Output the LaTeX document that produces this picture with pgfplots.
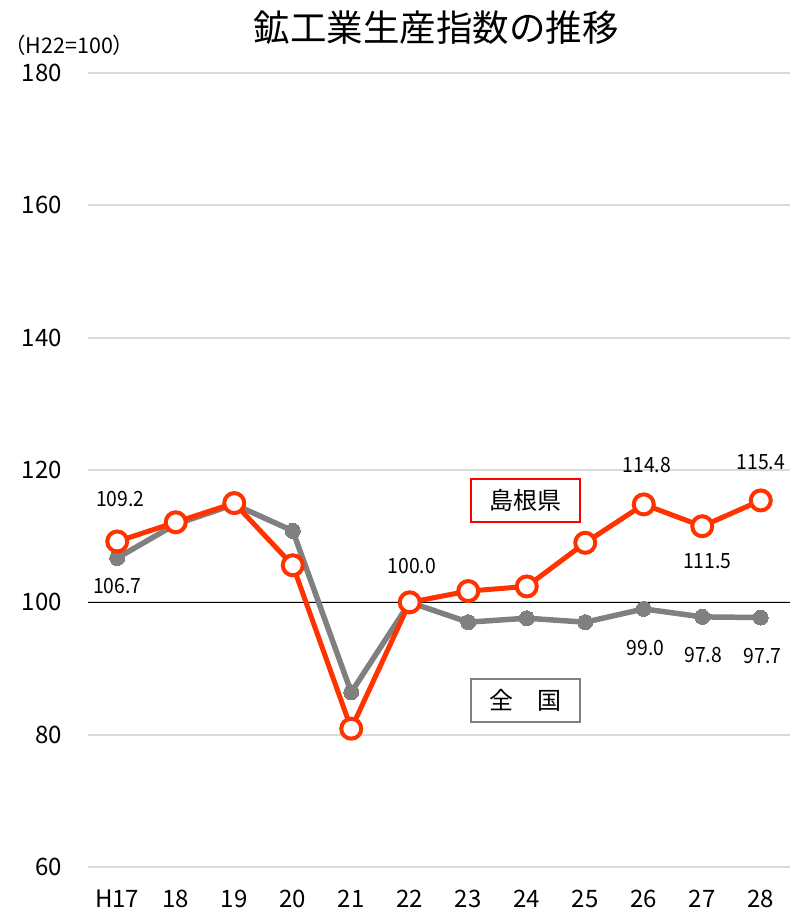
\documentclass[border=0pt]{standalone}
\usepackage{pgfplots}
\pgfplotsset{compat=1.18}
\usepackage{fontspec}
\setmainfont{Noto Sans CJK JP}
\definecolor{redline}{HTML}{FF3300}
\definecolor{grayline}{HTML}{808080}
\definecolor{gridc}{HTML}{D9D9D9}
\pgfplotstableread{
x shimane zenkoku
0 109.2 106.7
1 112.1 111.8
2 115.0 114.8
3 105.6 110.8
4 80.9 86.4
5 100.0 100.0
6 101.7 97.0
7 102.4 97.6
8 109.0 97.0
9 114.8 99.0
10 111.5 97.8
11 115.4 97.7
}\datatable
\begin{document}
\begin{tikzpicture}[x=1pt,y=1pt]
\path[use as bounding box] (0,0) rectangle (792,912);
\begin{axis}[
  at={(88pt,45pt)}, anchor=south west,
  scale only axis, width=702pt, height=794pt,
  xmin=-0.5, xmax=11.5, ymin=60, ymax=180,
  xtick={0,...,11},
  xticklabels={H17,18,19,20,21,22,23,24,25,26,27,28},
  ytick={60,80,...,180},
  axis line style={draw=none},
  major tick length=0pt,
  ymajorgrids, grid style={gridc, line width=1.8pt},
  /pgf/number format/assume math mode=true,
  yticklabel style={font=\fontsize{24}{26}\selectfont, anchor=east, inner sep=0pt, xshift=-26pt},
  xticklabel style={font=\fontsize{24}{26}\selectfont, anchor=center, inner sep=0pt, yshift=-32pt},
  clip=false,
]
\addplot[black, line width=1.3pt, forget plot] coordinates {(-0.5,100) (11.5,100)};
\addplot[grayline, line width=5.5pt, mark=*, mark size=7.5pt, mark options={fill=grayline, draw=grayline, line width=0pt}] table[x=x, y=zenkoku] {\datatable};
\addplot[redline, line width=5pt, mark=*, mark size=10pt, mark options={fill=white, draw=redline, line width=4pt}] table[x=x, y=shimane] {\datatable};
\begin{scope}[every node/.style={font=\fontsize{21}{24}\selectfont, inner sep=0pt}]
\node at (axis cs:0,109.2) [xshift=3pt, yshift=42pt] {\scalebox{0.92}[1]{109.2}};
\node at (axis cs:0,106.7) [yshift=-28pt] {\scalebox{0.92}[1]{106.7}};
\node at (axis cs:5,100) [xshift=2pt, yshift=36pt] {\scalebox{0.92}[1]{100.0}};
\node at (axis cs:9,114.8) [xshift=3pt, yshift=39pt] {\scalebox{0.92}[1]{114.8}};
\node at (axis cs:10,111.5) [xshift=5pt, yshift=-35pt] {\scalebox{0.92}[1]{111.5}};
\node at (axis cs:11,115.4) [xshift=0pt, yshift=38pt] {\scalebox{0.92}[1]{115.4}};
\node at (axis cs:9,99.0) [xshift=2pt, yshift=-39pt] {\scalebox{0.92}[1]{99.0}};
\node at (axis cs:10,97.8) [xshift=1pt, yshift=-38pt] {\scalebox{0.92}[1]{97.8}};
\node at (axis cs:11,97.7) [xshift=2pt, yshift=-38pt] {\scalebox{0.92}[1]{97.7}};
\end{scope}
\end{axis}
\node[font=\fontsize{36.5}{40}\selectfont] at (436,884) {鉱工業生産指数の推移};
\node[font=\fontsize{21.5}{24}\selectfont, anchor=west, inner sep=0pt] at (4,867) {（H22=100）};
\draw[red, line width=1.5pt, fill=white] (471,390) rectangle (580,433);
\node[font=\fontsize{24}{28}\selectfont] at (525.5,411.5) {島根県};
\draw[grayline, line width=1.5pt, fill=white] (471,190) rectangle (580,233);
\node[font=\fontsize{24}{28}\selectfont] at (525.5,211.5) {全　国};
\end{tikzpicture}
\end{document}
